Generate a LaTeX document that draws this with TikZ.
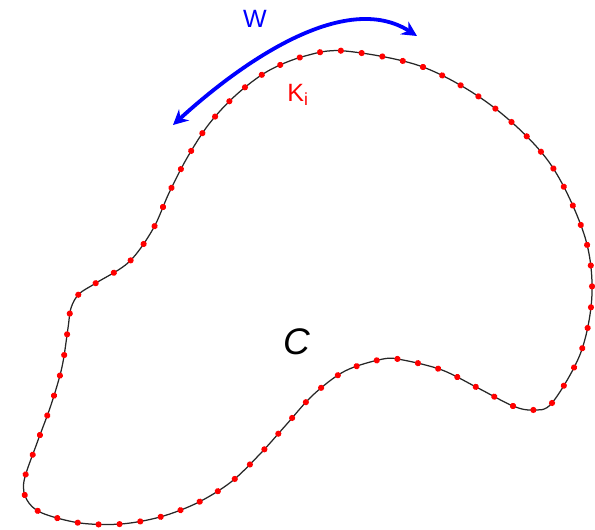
\documentclass[tikz,border=0pt]{standalone}
\usepackage{fontspec}
\setmainfont{Liberation Sans}
\usetikzlibrary{arrows.meta, decorations.markings}
\definecolor{contourred}{RGB}{255, 0, 0}
\definecolor{windowblue}{RGB}{0, 0, 255}
\tikzset{
  contour/.style={
    draw=black!85,
    line width=1.25pt,
    postaction={decorate},
    decoration={markings,
      mark=between positions 0 and 0.995 step 0.012346 with {
        \fill[contourred] (0,0) circle (3.1pt);
      }
    }
  },
  window/.style={
    draw=windowblue,
    line width=3.8pt,
    {Stealth[length=15pt, width=15pt, inset=5pt]}-{Stealth[length=15pt, width=15pt, inset=5pt]}
  },
  label/.style={
    inner sep=0pt,
    font=\fontsize{25}{25}\selectfont
  }
}
\begin{document}
\begin{tikzpicture}[x=1pt, y=-1pt]
  \useasboundingbox (0,0) rectangle (595,530);
  % closed contour with its sample points
  \draw[contour] plot[smooth cycle, tension=0.55] coordinates {
    (345,51) (423,67) (492,106) (549,162) (584,234) (592,293)
    (581,352) (552,403) (533,410) (513,406) (478,388) (442,370)
    (403,360) (383,359) (345,371) (313,395) (286,425) (260,454)
    (231,482) (197,503) (160,517) (121,524) (80,523) (42,513)
    (27,500) (24,481) (37,443) (51,405) (62,367) (68,328)
    (71,308) (79,294) (96,283) (129,262) (153,229) (169,193)
    (187,158) (209,124) (236,95) (268,71) (305,56)};
  % window along the contour
  \draw[window] (173,125) .. controls (242,62) and (345,-10) .. (417,36);
  \node[label, text=windowblue] (w) at (255,19) {W};
  \node[label, text=contourred] (k) at (298,95) {K\textsubscript{i}};
  \node[label, font=\fontsize{37}{37}\selectfont\itshape] (c) at (297,342) {C};
\end{tikzpicture}
\end{document}
